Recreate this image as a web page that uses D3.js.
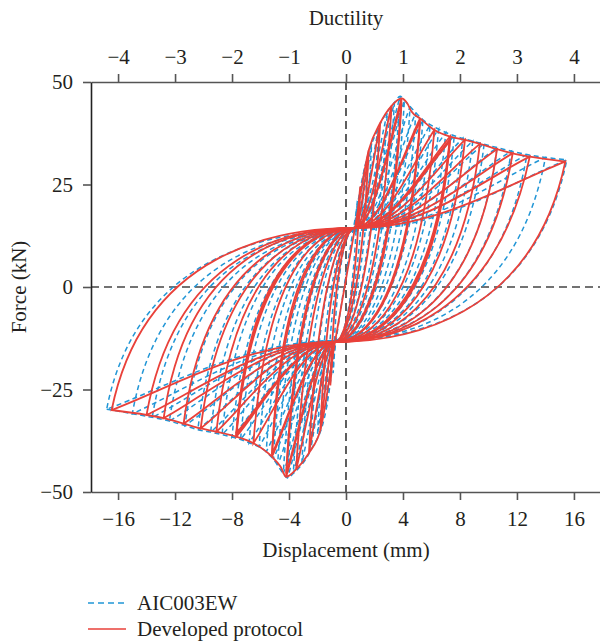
<!DOCTYPE html>
<html>
<head>
<meta charset="utf-8">
<script src="https://cdn.jsdelivr.net/npm/d3@7"></script>
<style>
  html, body { margin: 0; padding: 0; background: #fff; }
  svg { display: block; font-family: "Liberation Serif", "Times New Roman", serif; }
</style>
</head>
<body>
<svg id="chart" width="600" height="641"></svg>
<script>
// ---- Axis ticks ----
const dispTicks = [-16, -12, -8, -4, 0, 4, 8, 12, 16];
const ductTicks = [-4, -3, -2, -1, 0, 1, 2, 3, 4];
const forceTicks = [-50, -25, 0, 25, 50];
const yieldDisp = 4; // mm per unit of ductility

// ---- Developed protocol: one row per cycle ----
// positive peak (mm, kN), zero-force crossing on unloading (mm),
// negative peak (mm, kN), zero-force crossing on unloading (mm)
const protoPosDisp  = [1.0, 1.6, 2.4, 3.2, 3.9, 3.9, 5.2, 5.2, 6.2, 7.3, 7.3, 7.3, 8.35, 9.4, 10.6, 11.7, 12.9, 15.4];
const protoPosForce = [24.5, 33.4, 40.0, 44.2, 46.0, 45.0, 41.1, 40.4, 38.3, 36.7, 36.0, 35.6, 35.9, 34.9, 33.6, 32.6, 31.8, 30.6];
const protoPosZero  = [0.15, 0.3, 0.7, 1.2, 1.8, 2.0, 3.1, 3.3, 3.9, 4.6, 4.8, 5.0, 5.5, 6.2, 7.0, 7.4, 7.6, 10.2];
const protoNegDisp  = [-1.1, -1.8, -2.6, -3.5, -4.2, -4.2, -5.2, -5.2, -6.5, -7.7, -7.7, -7.7, -9.1, -10.2, -11.4, -12.8, -14.0, -16.45];
const protoNegForce = [-24.0, -34.9, -40.5, -44.5, -46.3, -45.5, -41.4, -40.8, -38.1, -36.5, -36.0, -35.6, -35.3, -34.5, -33.3, -32.0, -31.2, -30.0];
const protoNegZero  = [-0.35, -0.5, -0.9, -1.5, -2.2, -2.4, -3.3, -3.6, -4.3, -5.1, -5.3, -5.5, -6.1, -6.8, -7.8, -9.1, -9.5, -11.35];
const protoPinchUp   = [0.63, 14.4];
const protoPinchDown = [-0.77, -13.4];
// backbone (envelope) of the protocol
const protoEnvDisp  = [-16.45, -14.0, -12.8, -11.4, -10.2, -9.1, -7.7, -6.5, -5.2, -4.6, -4.2, -3.5, -2.6, -1.8, -0.77, 0.63, 1.6, 2.4, 3.2, 3.9, 4.3, 4.6, 5.2, 6.2, 7.3, 8.35, 9.4, 10.6, 11.7, 12.9, 15.4];
const protoEnvForce = [-30.0, -31.2, -32.0, -33.3, -34.5, -35.3, -36.5, -38.1, -41.4, -43.8, -46.3, -44.5, -40.5, -34.9, -13.4, 14.4, 33.4, 40.0, 44.2, 46.0, 44.8, 42.8, 41.1, 38.3, 36.7, 35.9, 34.9, 33.6, 32.6, 31.8, 30.6];

// ---- AIC003EW test record: one row per cycle ----
const testPosDisp  = [0.8, 1.3, 1.8, 2.3, 2.9, 3.4, 3.8, 4.1, 4.5, 4.9, 5.4, 5.9, 6.5, 7.0, 7.6, 8.2, 8.9, 9.7, 10.6, 11.6, 12.7, 14.0, 15.5];
const testPosForce = [21.0, 29.0, 35.0, 39.0, 42.5, 45.0, 46.5, 45.5, 44.0, 42.5, 40.8, 39.5, 38.5, 37.6, 36.9, 36.3, 35.6, 35.0, 34.0, 33.1, 32.3, 31.6, 31.0];
const testPosZero  = [0.1, 0.2, 0.4, 0.6, 1.0, 1.4, 1.8, 2.1, 2.5, 2.8, 3.2, 3.6, 4.1, 4.5, 5.0, 5.4, 5.9, 6.5, 7.1, 7.7, 8.4, 9.3, 10.4];
const testNegDisp  = [-0.9, -1.4, -2.0, -2.5, -3.1, -3.7, -4.1, -4.4, -4.8, -5.1, -5.6, -6.1, -6.8, -7.4, -8.0, -8.7, -9.5, -10.4, -11.3, -12.4, -13.6, -15.0, -16.8];
const testNegForce = [-21.0, -30.0, -36.0, -40.0, -43.0, -45.5, -46.6, -45.5, -43.5, -42.0, -40.2, -39.0, -38.0, -37.2, -36.6, -36.0, -35.4, -34.8, -33.8, -32.7, -31.8, -30.9, -29.8];
const testNegZero  = [-0.3, -0.4, -0.6, -0.9, -1.3, -1.8, -2.2, -2.5, -2.9, -3.2, -3.6, -4.0, -4.5, -5.0, -5.5, -6.0, -6.6, -7.2, -7.9, -8.6, -9.5, -10.5, -12.0];
const testPinchUp   = [0.5, 13.8];
const testPinchDown = [-0.7, -13.1];
const testEnvDisp  = [-16.8, -15.0, -13.6, -12.4, -11.3, -10.4, -9.5, -8.7, -8.0, -7.4, -6.8, -6.1, -5.6, -5.1, -4.4, -4.1, -3.7, -2.5, -1.4, -0.7, 0.5, 1.3, 2.3, 3.4, 3.8, 4.1, 4.5, 5.4, 6.5, 7.6, 8.9, 10.6, 12.7, 15.5];
const testEnvForce = [-29.8, -30.9, -31.8, -32.7, -33.8, -34.8, -35.4, -36.0, -36.6, -37.2, -38.0, -39.0, -40.2, -42.0, -45.5, -46.6, -45.5, -40.0, -30.0, -13.1, 13.8, 29.0, 39.0, 45.0, 46.5, 45.5, 44.0, 40.8, 38.5, 36.9, 35.6, 34.0, 32.3, 31.0];

const seriesNames = ["AIC003EW", "Developed protocol"];
const colors = { test: "#2196d6", proto: "#e9413a" };

// ---- Layout ----
const svg = d3.select("#chart");
const x = d3.scaleLinear().domain([-17.9, 17.9]).range([91, 601]);
const xd = d3.scaleLinear().domain([-17.9 / yieldDisp, 17.9 / yieldDisp]).range([91, 601]);
const y = d3.scaleLinear().domain([-50, 50]).range([492, 82]);

// zero reference lines
const zeroG = svg.append("g").attr("stroke", "#444").attr("stroke-width", 1.7).attr("stroke-dasharray", "8,5");
zeroG.append("line").attr("x1", x(-17.9)).attr("x2", x(17.9)).attr("y1", y(0)).attr("y2", y(0));
zeroG.append("line").attr("x1", x(0)).attr("x2", x(0)).attr("y1", y(50)).attr("y2", y(-50));

// ---- Loop geometry ----
// reloading: leaves the pinch point horizontally and bends toward the peak
function reload(p, pinch, peak) {
  const [px, pf] = pinch, [qx, qf] = peak;
  p.bezierCurveTo(
    x(px + 0.4 * (qx - px)), y(pf),
    x(qx - 0.25 * (qx - px)), y(qf - 0.3 * (qf - pf)),
    x(qx), y(qf));
}
// unloading: drops steeply from the peak through zero force, flattening into the opposite pinch
function unload(p, peak, zero, pinch) {
  const [qx, qf] = peak, [rx, rf] = pinch;
  p.bezierCurveTo(
    x(zero + 0.55 * (qx - zero)), y(qf + 0.88 * (rf - qf)),
    x(rx + 0.44 * (zero - rx)), y(rf),
    x(rx), y(rf));
}
function loopPath(i, set) {
  const p = d3.path();
  const pos = [set.posDisp[i], set.posForce[i]];
  const neg = [set.negDisp[i], set.negForce[i]];
  p.moveTo(x(set.pinchUp[0]), y(set.pinchUp[1]));
  reload(p, set.pinchUp, pos);
  unload(p, pos, set.posZero[i], set.pinchDown);
  reload(p, set.pinchDown, neg);
  unload(p, neg, set.negZero[i], set.pinchUp);
  return p.toString();
}

const testSet = {
  posDisp: testPosDisp, posForce: testPosForce, posZero: testPosZero,
  negDisp: testNegDisp, negForce: testNegForce, negZero: testNegZero,
  pinchUp: testPinchUp, pinchDown: testPinchDown
};
const protoSet = {
  posDisp: protoPosDisp, posForce: protoPosForce, posZero: protoPosZero,
  negDisp: protoNegDisp, negForce: protoNegForce, negZero: protoNegZero,
  pinchUp: protoPinchUp, pinchDown: protoPinchDown
};

const envLine = d3.line().x(d => x(d[0])).y(d => y(d[1])).curve(d3.curveMonotoneX);

// test record (dashed) underneath
const gTest = svg.append("g").attr("fill", "none").attr("stroke", colors.test)
  .attr("stroke-width", 1.5).attr("stroke-dasharray", "5,3.5");
gTest.selectAll("path.loop").data(d3.range(testPosDisp.length)).join("path")
  .attr("class", "loop").attr("d", i => loopPath(i, testSet));
gTest.append("path").attr("d", envLine(d3.zip(testEnvDisp, testEnvForce)));

// developed protocol on top
const gProto = svg.append("g").attr("fill", "none").attr("stroke", colors.proto)
  .attr("stroke-width", 1.8);
gProto.selectAll("path.loop").data(d3.range(protoPosDisp.length)).join("path")
  .attr("class", "loop").attr("d", i => loopPath(i, protoSet));
gProto.append("path").attr("d", envLine(d3.zip(protoEnvDisp, protoEnvForce)));

// ---- Axes ----
const fontSize = 21;
function styleAxis(g, col) {
  g.select(".domain").attr("stroke", col).attr("stroke-width", 1.6);
  g.selectAll(".tick line").attr("stroke", col).attr("stroke-width", 1.6);
  g.selectAll(".tick text").attr("fill", "#231f20").style("font-size", fontSize + "px")
    .style("font-family", "'Liberation Serif', serif");
}
const axB = svg.append("g").attr("transform", `translate(0,${y(-50)})`)
  .call(d3.axisBottom(x).tickValues(dispTicks).tickSize(8).tickSizeOuter(0).tickPadding(11));
styleAxis(axB, "#555");
const axT = svg.append("g").attr("transform", `translate(0,${y(50)})`)
  .call(d3.axisTop(xd).tickValues(ductTicks).tickSize(8).tickSizeOuter(0).tickPadding(10));
styleAxis(axT, "#555");
const axL = svg.append("g").attr("transform", `translate(${x(-17.9)},0)`)
  .call(d3.axisLeft(y).tickValues(forceTicks).tickSize(8).tickSizeOuter(0).tickPadding(10));
styleAxis(axL, "#222");
axL.selectAll(".tick line").attr("stroke", "#555");

// ---- Titles ----
svg.append("text").attr("x", x(0)).attr("y", 25).attr("text-anchor", "middle")
  .style("font-size", fontSize + "px").attr("fill", "#231f20").text("Ductility");
svg.append("text").attr("x", x(0)).attr("y", 557).attr("text-anchor", "middle")
  .style("font-size", fontSize + "px").attr("fill", "#231f20").text("Displacement (mm)");
svg.append("text").attr("transform", `translate(26,${y(0)}) rotate(-90)`).attr("text-anchor", "middle")
  .style("font-size", fontSize + "px").attr("fill", "#231f20").text("Force (kN)");

// ---- Legend ----
const legend = svg.append("g");
legend.append("line").attr("x1", 88).attr("x2", 126).attr("y1", 603).attr("y2", 603)
  .attr("stroke", colors.test).attr("stroke-width", 1.6).attr("stroke-dasharray", "6,4");
legend.append("text").attr("x", 137).attr("y", 610).style("font-size", fontSize + "px")
  .attr("fill", "#231f20").text(seriesNames[0]);
legend.append("line").attr("x1", 88).attr("x2", 126).attr("y1", 629).attr("y2", 629)
  .attr("stroke", colors.proto).attr("stroke-width", 1.6);
legend.append("text").attr("x", 137).attr("y", 636).style("font-size", fontSize + "px")
  .attr("fill", "#231f20").text(seriesNames[1]);
</script>
</body>
</html>
